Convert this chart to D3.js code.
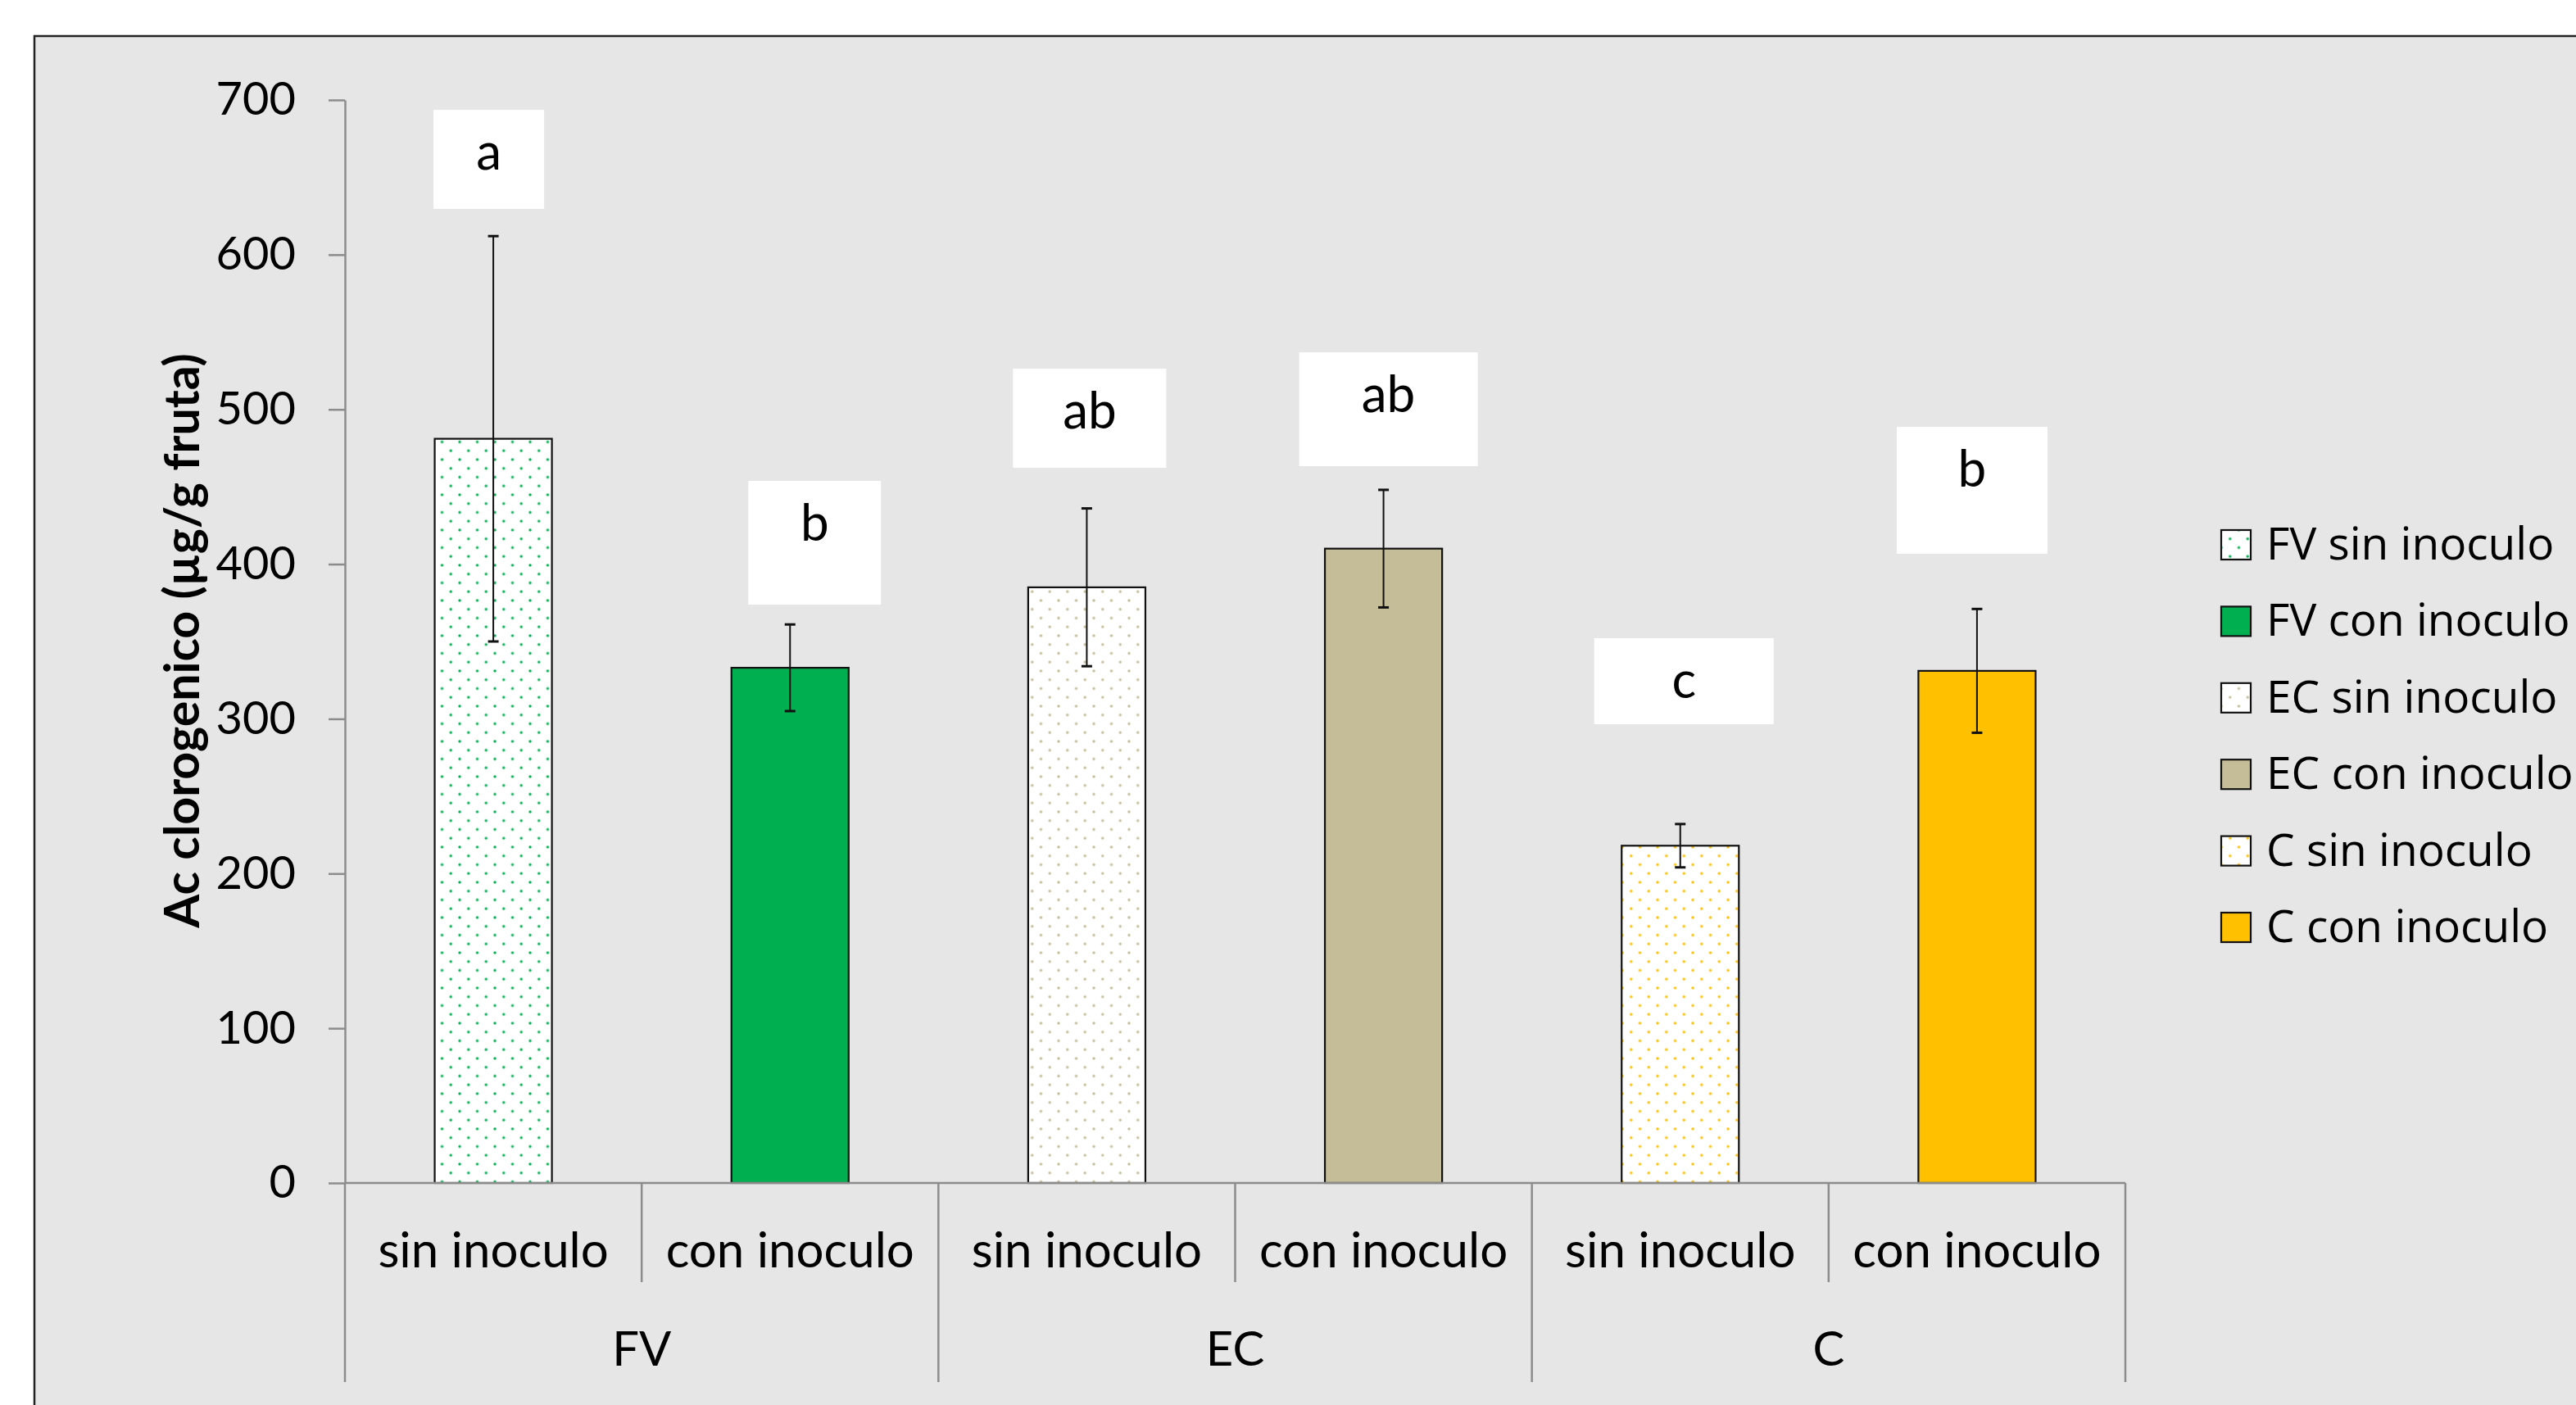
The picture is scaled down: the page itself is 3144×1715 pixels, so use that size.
<!DOCTYPE html>
<html><head><meta charset="utf-8">
<script src="https://cdn.jsdelivr.net/npm/d3@7/dist/d3.min.js"></script>
<style>body{margin:0;background:#fff;} svg{display:block}</style>
</head><body>
<svg id="chart" width="3144" height="1715"></svg>
<script>
// ---------------- data ----------------
const groups = ["FV", "EC", "C"];
const treatments = ["sin inoculo", "con inoculo"];
const seriesNames = ["FV sin inoculo", "FV con inoculo", "EC sin inoculo", "EC con inoculo", "C sin inoculo", "C con inoculo"];
const values = [481, 333, 385, 410, 218, 331];
const errors = [131, 28, 51, 38, 14, 40];
const letters = ["a", "b", "ab", "ab", "c", "b"];
const yTicks = [0, 100, 200, 300, 400, 500, 600, 700];
const yTitle = "Ac clorogenico (µg/g fruta)";

// ---------------- styles / layout ----------------
const baseColors = ["#00B050", "#00B050", "#C4BD97", "#C4BD97", "#FFC000", "#FFC000"];
const dotted = [true, false, true, false, true, false];
// letter boxes (annotation layout): top/bottom in axis units, centre offset & width in px
const boxTop = [693.6, 453.8, 526.3, 536.9, 352.1, 488.7];
const boxBottom = [629.6, 373.8, 462.2, 463.3, 296.5, 406.7];
const boxDx = [-5.5, 30, 3.5, 6, 4.5, -6];
const boxW = [135, 162, 187, 218, 219, 184];

const svg = d3.select("#chart");
const W = 3144, H = 1715;
const plotL = 421, plotR = 2594, plotT = 122, plotB = 1444;
const numFont = "Lato, 'Open Sans', sans-serif";
const axisGray = "#8c8c8c";

// chart area
svg.append("rect").attr("x", 42).attr("y", 44).attr("width", W).attr("height", H)
  .attr("fill", "#e6e6e6").attr("stroke", "#222").attr("stroke-width", 2.5);

// patterns
const defs = svg.append("defs");
baseColors.forEach((c, i) => {
  if (!dotted[i]) return;
  const p = defs.append("pattern").attr("id", "pat" + i)
    .attr("patternUnits", "userSpaceOnUse").attr("width", 21.5).attr("height", 21.5);
  p.append("rect").attr("width", 21.5).attr("height", 21.5).attr("fill", "#fff");
  p.append("circle").attr("cx", 2).attr("cy", 2).attr("r", 1.7).attr("fill", c);
  p.append("circle").attr("cx", 12.75).attr("cy", 12.75).attr("r", 1.7).attr("fill", c);
});
const fillOf = i => dotted[i] ? `url(#pat${i})` : baseColors[i];

// scales
const x = d3.scaleBand().domain(seriesNames).range([plotL, plotR]).paddingInner(0.605).paddingOuter(0.3025);
const xs = d3.scaleBand().domain(seriesNames).range([plotL, plotR]).padding(0);
const xg = d3.scaleBand().domain(groups).range([plotL, plotR]).padding(0);
const y = d3.scaleLinear().domain([0, 700]).range([plotB, plotT]);

// bars
svg.append("g").selectAll("rect").data(values).join("rect")
  .attr("x", (d, i) => x(seriesNames[i]))
  .attr("y", d => y(d))
  .attr("width", x.bandwidth())
  .attr("height", d => y(0) - y(d))
  .attr("fill", (d, i) => fillOf(i))
  .attr("stroke", "#111").attr("stroke-width", 2.2);

// error bars
const eg = svg.append("g").attr("stroke", "#111");
values.forEach((v, i) => {
  const cx = x(seriesNames[i]) + x.bandwidth() / 2;
  eg.append("line").attr("x1", cx).attr("x2", cx).attr("y1", y(v - errors[i])).attr("y2", y(v + errors[i])).attr("stroke-width", 2);
  [v - errors[i], v + errors[i]].forEach(e => {
    eg.append("line").attr("x1", cx - 6.5).attr("x2", cx + 6.5).attr("y1", y(e)).attr("y2", y(e)).attr("stroke-width", 3);
  });
});

// letter boxes
const lg = svg.append("g");
letters.forEach((l, i) => {
  const cx = xs(seriesNames[i]) + xs.bandwidth() / 2 + boxDx[i];
  const t = y(boxTop[i]), b = y(boxBottom[i]);
  lg.append("rect").attr("x", cx - boxW[i] / 2).attr("y", t).attr("width", boxW[i]).attr("height", b - t).attr("fill", "#fff");
  lg.append("text").attr("x", cx).attr("y", t + 73).attr("text-anchor", "middle")
    .attr("font-family", numFont).attr("font-size", 62).attr("fill", "#000").text(l);
});

// y axis
const yAxis = svg.append("g").attr("transform", `translate(${plotL},0)`)
  .call(d3.axisLeft(y).tickValues(yTicks).tickSize(20).tickSizeOuter(0).tickPadding(40));
yAxis.select(".domain").attr("stroke", axisGray).attr("stroke-width", 2.5);
yAxis.selectAll(".tick line").attr("stroke", axisGray).attr("stroke-width", 2.5);
yAxis.selectAll(".tick text").attr("font-family", numFont).attr("font-size", 56).attr("fill", "#000");

// category axis
const ca = svg.append("g").attr("stroke", axisGray).attr("stroke-width", 2.5);
ca.append("line").attr("x1", plotL).attr("x2", plotR).attr("y1", plotB).attr("y2", plotB);
seriesNames.forEach((s, i) => {
  if (i % 2 === 1) {
    const xx = xs(s);
    ca.append("line").attr("x1", xx).attr("x2", xx).attr("y1", plotB).attr("y2", 1565);
  }
});
groups.forEach(g => {
  ca.append("line").attr("x1", xg(g)).attr("x2", xg(g)).attr("y1", plotB).attr("y2", 1687);
});
ca.append("line").attr("x1", plotR).attr("x2", plotR).attr("y1", plotB).attr("y2", 1687);

seriesNames.forEach((s, i) => {
  svg.append("text").attr("x", xs(s) + xs.bandwidth() / 2).attr("y", 1547).attr("text-anchor", "middle")
    .attr("font-family", numFont).attr("font-size", 60).attr("fill", "#000").text(treatments[i % 2]);
});
groups.forEach(g => {
  svg.append("text").attr("x", xg(g) + xg.bandwidth() / 2).attr("y", 1667).attr("text-anchor", "middle")
    .attr("font-family", numFont).attr("font-size", 58).attr("fill", "#000").text(g);
});

// y title
svg.append("text").attr("transform", `translate(220,782) rotate(-90)`)
  .attr("text-anchor", "middle").attr("dominant-baseline", "central")
  .attr("font-family", numFont).attr("font-weight", "bold").attr("font-size", 59).attr("fill", "#000")
  .text(yTitle);

// legend
const leg = svg.append("g");
seriesNames.forEach((s, i) => {
  const ty = 647 + i * 93.4;
  leg.append("rect").attr("x", 2711).attr("y", ty).attr("width", 36).attr("height", 36)
    .attr("fill", fillOf(i)).attr("stroke", "#111").attr("stroke-width", 2.2);
  leg.append("text").attr("x", 2766).attr("y", ty + 36).attr("font-family", "'Open Sans', sans-serif")
    .attr("font-size", 55).attr("fill", "#000").text(s);
});
</script>
</body></html>
